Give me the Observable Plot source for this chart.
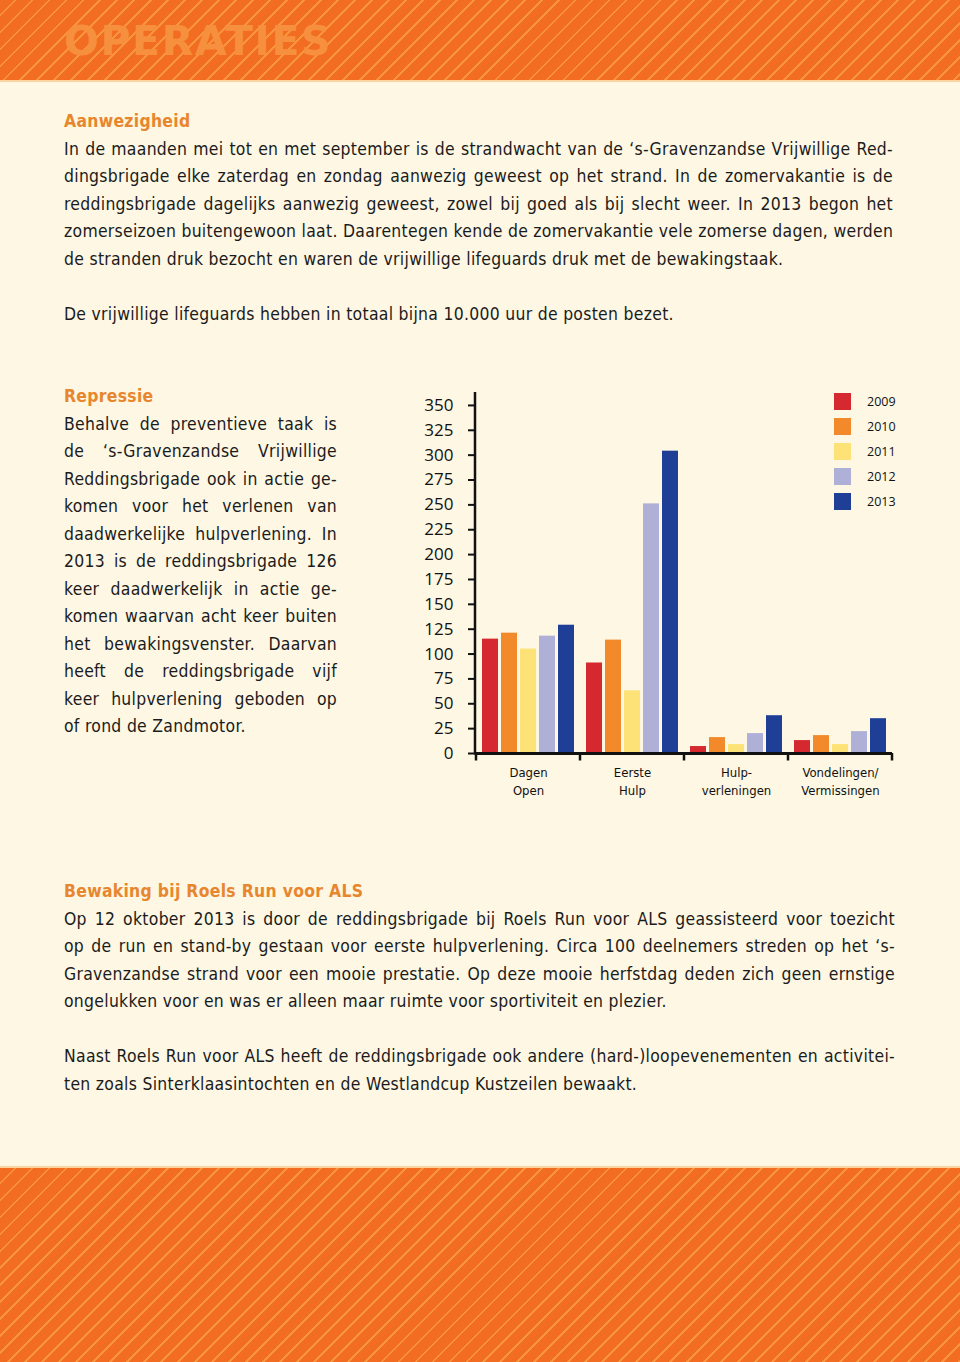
<!DOCTYPE html>
<html><head><meta charset="utf-8">
<script src="https://cdn.jsdelivr.net/npm/d3@7"></script>
<script src="https://cdn.jsdelivr.net/npm/@observablehq/plot@0.6"></script>
<style>
html,body{margin:0;padding:0;}
body{width:960px;height:1362px;position:relative;background:#fdf7e4;overflow:hidden;font-family:"DejaVu Sans Condensed","DejaVu Sans",sans-serif;color:#1b1b1b;}
.band{position:absolute;left:0;width:960px;background-color:#f26c22;background-image:repeating-linear-gradient(135deg,#f26c22 0px,#f26c22 10px,#f8953c 10px,#f8953c 12px);}
#hdr{top:0;height:80px;border-bottom:2px solid #fbd4a0;}
#ftr{top:1166px;height:196px;border-top:2px solid #fbd4a0;}
#title{position:absolute;left:64px;top:21px;font-family:"DejaVu Sans",sans-serif;font-weight:bold;font-size:41px;line-height:41px;letter-spacing:1.6px;color:#f6903e;}
.blk{position:absolute;left:64px;font-size:17.4px;line-height:27.5px;letter-spacing:0.3px;}
.ln{text-align:justify;text-align-last:justify;white-space:nowrap;}
.ln.last{text-align:left;text-align-last:left;}
.h{color:#e8862e;font-weight:bold;}
.gap{height:27.5px;}
#chart{position:absolute;left:400px;top:380px;}
.lg{position:absolute;left:834px;width:17px;height:17px;}
.lgt{position:absolute;left:867px;font-family:"Open Sans",sans-serif;font-size:12.5px;line-height:17px;color:#111;}
</style></head>
<body>
<div id="hdr" class="band"></div>
<div id="title">OPERATIES</div>
<div id="ftr" class="band"></div>
<div id="b1" class="blk" style="top:108px;width:829px;"></div>
<div id="b2" class="blk" style="top:383px;width:273px;"></div>
<div id="b3" class="blk" style="top:878px;width:831px;"></div>
<div id="chart"></div>
<div id="legend"></div>
<script>
// ---- text content ----
const head1 = "Aanwezigheid";
const para1 = [
  "In de maanden mei tot en met september is de strandwacht van de ‘s-Gravenzandse Vrijwillige Red-",
  "dingsbrigade elke zaterdag en zondag aanwezig geweest op het strand. In de zomervakantie is de",
  "reddingsbrigade dagelijks aanwezig geweest, zowel bij goed als bij slecht weer. In 2013 begon het",
  "zomerseizoen buitengewoon laat. Daarentegen kende de zomervakantie vele zomerse dagen, werden",
  "de stranden druk bezocht en waren de vrijwillige lifeguards druk met de bewakingstaak."
];
const para2 = ["De vrijwillige lifeguards hebben in totaal bijna 10.000 uur de posten bezet."];
const head2 = "Repressie";
const para3 = [
  "Behalve de preventieve taak is",
  "de ‘s-Gravenzandse Vrijwillige",
  "Reddingsbrigade ook in actie ge-",
  "komen voor het verlenen van",
  "daadwerkelijke hulpverlening. In",
  "2013 is de reddingsbrigade 126",
  "keer daadwerkelijk in actie ge-",
  "komen waarvan acht keer buiten",
  "het bewakingsvenster. Daarvan",
  "heeft de reddingsbrigade vijf",
  "keer hulpverlening geboden op",
  "of rond de Zandmotor."
];
const head3 = "Bewaking bij Roels Run voor ALS";
const para4 = [
  "Op 12 oktober 2013 is door de reddingsbrigade bij Roels Run voor ALS geassisteerd voor toezicht",
  "op de run en stand-by gestaan voor eerste hulpverlening. Circa 100 deelnemers streden op het ‘s-",
  "Gravenzandse strand voor een mooie prestatie. Op deze mooie herfstdag deden zich geen ernstige",
  "ongelukken voor en was er alleen maar ruimte voor sportiviteit en plezier."
];
const para5 = [
  "Naast Roels Run voor ALS heeft de reddingsbrigade ook andere (hard-)loopevenementen en activitei-",
  "ten zoals Sinterklaasintochten en de Westlandcup Kustzeilen bewaakt."
];

// ---- chart data ----
const categories = ["Dagen Open", "Eerste Hulp", "Hulpverleningen", "Vondelingen/Vermissingen"];
const categoryLabels = ["Dagen\nOpen", "Eerste\nHulp", "Hulp-\nverleningen", "Vondelingen/\nVermissingen"];
const years = ["2009", "2010", "2011", "2012", "2013"];
const colors = ["#d5282f", "#f28a2b", "#fde377", "#aeb0d8", "#1f3f96"];
const v2009 = [115, 91, 7, 13];
const v2010 = [121, 114, 16, 18];
const v2011 = [105, 63, 9, 9];
const v2012 = [118, 251, 20, 22];
const v2013 = [129, 304, 38, 35];
const yTicks = [0, 25, 50, 75, 100, 125, 150, 175, 200, 225, 250, 275, 300, 325, 350];

// ---- text rendering ----
function addHead(el, t) { const d = document.createElement("div"); d.className = "h"; d.textContent = t; el.appendChild(d); }
function addPara(el, lines) {
  lines.forEach((t, i) => {
    const d = document.createElement("div");
    d.className = "ln" + (i === lines.length - 1 ? " last" : "");
    d.textContent = t; el.appendChild(d);
  });
}
function addGap(el) { const d = document.createElement("div"); d.className = "gap"; el.appendChild(d); }
const b1 = document.getElementById("b1");
addHead(b1, head1); addPara(b1, para1); addGap(b1); addPara(b1, para2);
const b2 = document.getElementById("b2");
addHead(b2, head2); addPara(b2, para3);
const b3 = document.getElementById("b3");
addHead(b3, head3); addPara(b3, para4); addGap(b3); addPara(b3, para5);

// ---- chart ----
const series = [v2009, v2010, v2011, v2012, v2013];
const data = years.flatMap((yr, i) => categories.map((c, j) => ({cat: c, year: yr, value: series[i][j]})));

const W = 560, H = 430, ML = 75, MR = 67, MT = 12, MB = 57;
const plot = Plot.plot({
  width: W, height: H, marginLeft: ML, marginRight: MR, marginTop: MT, marginBottom: MB,
  style: {background: "transparent", color: "#111", overflow: "visible"},
  fx: {domain: categories, padding: 0, label: null},
  x: {domain: years, paddingInner: 0.18, paddingOuter: 0.27, axis: null},
  y: {domain: [0, 363], label: null},
  color: {domain: years, range: colors},
  marks: [
    Plot.barY(data, {fx: "cat", x: "year", y: "value", fill: "year"}),
    Plot.ruleY([0], {stroke: "#111", strokeWidth: 3}),
    Plot.axisY({ticks: yTicks, tickSize: 8, tickPadding: 15, strokeWidth: 2, stroke: "#111",
      fontSize: 17, fontFamily: "Open Sans, sans-serif", fill: "#111", label: null}),
    Plot.axisFx({anchor: "bottom", tickSize: 0, tickPadding: 10.5, label: null,
      tickFormat: d => categoryLabels[categories.indexOf(d)],
      fontSize: 13, lineHeight: 18 / 13, fontFamily: "DejaVu Sans Condensed, sans-serif", fill: "#111"})
  ]
});
document.getElementById("chart").appendChild(plot);

// axis line and category boundary ticks, positioned via the plot's scales
const svg = d3.select(plot);
const fxs = plot.scale("fx"), ys = plot.scale("y");
const y0 = ys.apply(0), yTop = ys.apply(ys.domain[1]);
svg.append("line").attr("x1", ML).attr("x2", ML).attr("y1", yTop).attr("y2", y0 + 1.5)
  .attr("stroke", "#111").attr("stroke-width", 2.5);
const edges = categories.map(c => fxs.apply(c));
edges.push(fxs.apply(categories[categories.length - 1]) + fxs.bandwidth);
edges.forEach(x => svg.append("line").attr("x1", x).attr("x2", x).attr("y1", y0).attr("y2", y0 + 7.5)
  .attr("stroke", "#111").attr("stroke-width", 2.5));

// legend
const lg = document.getElementById("legend");
years.forEach((yr, i) => {
  const s = document.createElement("div"); s.className = "lg";
  s.style.top = (393 + 25 * i) + "px"; s.style.background = colors[i]; lg.appendChild(s);
  const t = document.createElement("div"); t.className = "lgt";
  t.style.top = (393 + 25 * i) + "px"; t.textContent = yr; lg.appendChild(t);
});
</script>
</body></html>
